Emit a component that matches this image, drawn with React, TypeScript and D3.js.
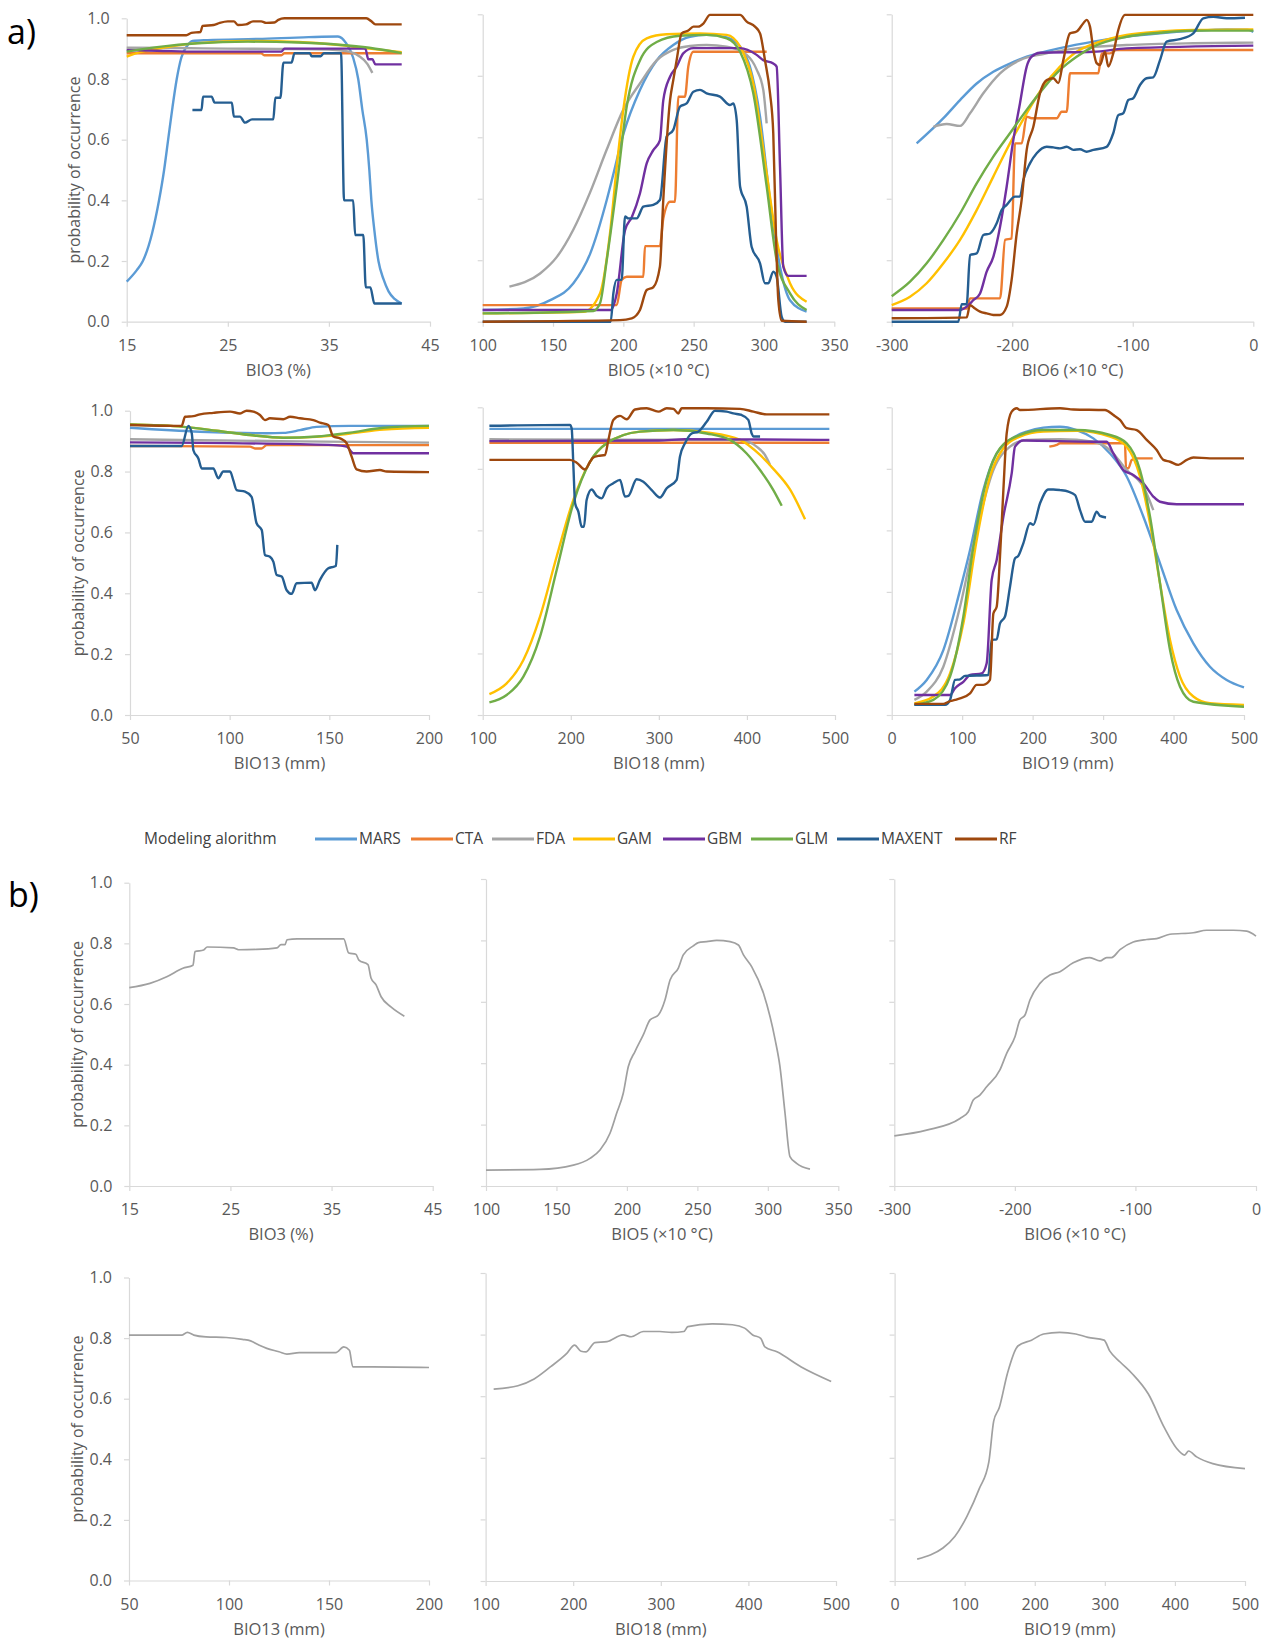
import * as d3 from 'd3'
import { useEffect, useRef } from 'react'

type Pt = [number, number]

const MODELS = ['MARS', 'CTA', 'FDA', 'GAM', 'GBM', 'GLM', 'MAXENT', 'RF']
const MODEL_COLORS = ['#5b9bd5', '#ed7d31', '#a5a5a5', '#ffc000', '#7030a0', '#70ad47', '#255e91', '#9e480e']
const Y_TICKS = [0, 0.2, 0.4, 0.6, 0.8, 1.0]

const BIO3_TICKS = [15, 25, 35, 45]
const BIO5_TICKS = [100, 150, 200, 250, 300, 350]
const BIO6_TICKS = [-300, -200, -100, 0]
const BIO13_TICKS = [50, 100, 150, 200]
const BIO18_TICKS = [100, 200, 300, 400, 500]
const BIO19_TICKS = [0, 100, 200, 300, 400, 500]

// a) response curves per modelling algorithm
const bio3Curves: Record<string, Pt[]> = {
  MARS: [[15, 0.132], [16, 0.17], [16.6, 0.2], [17.5, 0.29], [18.2, 0.4], [18.7, 0.5], [19.1, 0.6], [19.5, 0.7], [19.95, 0.8], [20.4, 0.87], [21, 0.91], [21.5, 0.925], [23, 0.928], [28, 0.932], [33, 0.938], [35.9, 0.94], [36.7, 0.918], [37.4, 0.87], [37.9, 0.8], [38.3, 0.7], [38.74, 0.6], [39.0, 0.5], [39.2, 0.4], [39.5, 0.3], [39.9, 0.2], [40.4, 0.14], [40.9, 0.1], [41.5, 0.075], [42.2, 0.06]],
  CTA: [[15, 0.885], [28.3, 0.885], [28.6, 0.878], [30.3, 0.878], [30.6, 0.885], [42.2, 0.885]],
  FDA: [[15, 0.903], [20, 0.902], [25, 0.9], [30, 0.899], [35, 0.897], [37, 0.89], [38, 0.875], [38.8, 0.85], [39.3, 0.82]],
  GAM: [[15, 0.874], [16.5, 0.89], [19, 0.905], [22, 0.918], [27, 0.925], [32, 0.922], [36, 0.912], [39, 0.9], [42.2, 0.888]],
  GBM: [[15, 0.895], [18, 0.893], [22, 0.89], [30.3, 0.89], [30.6, 0.9], [38.6, 0.9], [38.9, 0.865], [39.3, 0.865], [39.6, 0.848], [42.2, 0.848]],
  GLM: [[15, 0.89], [18, 0.905], [22, 0.918], [27, 0.923], [32, 0.92], [36, 0.913], [39, 0.903], [42.2, 0.885]],
  MAXENT: [[21.5, 0.698], [22.4, 0.698], [22.55, 0.742], [23.4, 0.742], [23.7, 0.722], [25.4, 0.722], [25.6, 0.676], [26.2, 0.676], [26.7, 0.656], [27.4, 0.667], [29.5, 0.667], [29.7, 0.738], [30.2, 0.738], [30.5, 0.854], [31.3, 0.854], [31.6, 0.885], [33.1, 0.885], [33.3, 0.875], [34.2, 0.875], [34.5, 0.885], [36.2, 0.885], [36.5, 0.4], [37.4, 0.4], [37.6, 0.286], [38.4, 0.286], [38.65, 0.113], [39.1, 0.113], [39.5, 0.06], [42.2, 0.06]],
  RF: [[15, 0.944], [20.9, 0.944], [21.4, 0.952], [22.3, 0.955], [22.5, 0.975], [23.6, 0.978], [24.2, 0.985], [25.0, 0.99], [25.6, 0.99], [26.0, 0.978], [26.8, 0.98], [27.5, 0.99], [28.3, 0.99], [28.8, 0.985], [29.6, 0.986], [30.0, 0.995], [30.6, 1.0], [38.7, 1.0], [39.2, 0.99], [39.6, 0.98], [42.2, 0.98]],
}

const bio5Curves: Record<string, Pt[]> = {
  MARS: [[100, 0.038], [129, 0.043], [148, 0.07], [164.5, 0.125], [176.3, 0.22], [188.2, 0.396], [192.9, 0.48], [200, 0.61], [211.8, 0.754], [223.7, 0.85], [235.5, 0.9], [247.4, 0.927], [259.2, 0.933], [273.5, 0.925], [283, 0.895], [290, 0.83], [297.2, 0.667], [304.3, 0.396], [311.4, 0.179], [318.5, 0.07], [330.3, 0.033]],
  CTA: [[100, 0.054], [195.3, 0.054], [198.8, 0.136], [202.4, 0.146], [214.2, 0.146], [215.4, 0.246], [226, 0.246], [228.4, 0.336], [233.2, 0.39], [236.7, 0.39], [239.1, 0.732], [243.8, 0.732], [246.2, 0.83], [249.8, 0.878], [301.9, 0.878]],
  FDA: [[119, 0.114], [140.8, 0.157], [152.6, 0.21], [164.5, 0.3], [176.3, 0.42], [188.2, 0.56], [200, 0.69], [211.8, 0.775], [223.7, 0.85], [235.5, 0.884], [247.4, 0.897], [259.2, 0.9], [273.5, 0.895], [287.7, 0.868], [294.8, 0.82], [299.5, 0.754], [301.9, 0.645]],
  GAM: [[100, 0.027], [171.6, 0.032], [183.4, 0.092], [190.5, 0.287], [195.3, 0.504], [200, 0.69], [207.1, 0.862], [216.6, 0.922], [230.8, 0.935], [254.5, 0.938], [273.5, 0.933], [283, 0.895], [292.4, 0.775], [301.9, 0.483], [309, 0.266], [318.5, 0.125], [330.3, 0.065]],
  GBM: [[100, 0.038], [191, 0.038], [195.3, 0.092], [201.2, 0.298], [206, 0.34], [211.8, 0.417], [216.6, 0.515], [221.3, 0.558], [226, 0.59], [228.4, 0.72], [233.2, 0.797], [237.9, 0.83], [242.6, 0.873], [249.8, 0.89], [283, 0.89], [294.8, 0.868], [299.5, 0.851], [306.6, 0.84], [309, 0.83], [311.4, 0.504], [313.7, 0.18], [317.3, 0.149], [330.3, 0.149]],
  GLM: [[100, 0.027], [178.7, 0.035], [183.4, 0.06], [188.2, 0.2], [195.3, 0.44], [202.4, 0.7], [211.8, 0.85], [223.7, 0.91], [240.3, 0.93], [259.2, 0.933], [273.5, 0.922], [283, 0.878], [292.4, 0.743], [301.9, 0.44], [309, 0.2], [318.5, 0.092], [330.3, 0.038]],
  MAXENT: [[100, 0], [191, 0], [192.9, 0.092], [195.3, 0.136], [198.8, 0.136], [201.2, 0.342], [203.6, 0.336], [209.5, 0.336], [214.2, 0.374], [221.3, 0.38], [226, 0.396], [230.8, 0.602], [235.5, 0.624], [240.3, 0.7], [245, 0.71], [249.8, 0.748], [254.5, 0.754], [259.2, 0.743], [268.7, 0.732], [275.8, 0.705], [278.2, 0.71], [280.6, 0.656], [283, 0.44], [287.7, 0.374], [291.2, 0.244], [297.2, 0.19], [300.7, 0.125], [303.1, 0.125], [306.6, 0.163], [309, 0.146], [312.6, 0.016], [315, 0], [330.3, 0]],
  RF: [[100, 0], [197.6, 0.005], [206, 0.011], [211.8, 0.038], [216.6, 0.103], [221.3, 0.112], [226, 0.179], [228.4, 0.396], [233.2, 0.72], [235.5, 0.786], [237.9, 0.851], [241.5, 0.938], [246.2, 0.947], [249.8, 0.96], [253.3, 0.96], [256.9, 0.97], [261.6, 0.998], [283, 0.998], [287.7, 0.976], [293.6, 0.96], [297.2, 0.938], [300.7, 0.851], [304.3, 0.743], [306.6, 0.613], [308.5, 0.287], [310.2, 0.07], [312.6, 0.003], [330.3, 0]],
}

const bio6Curves: Record<string, Pt[]> = {
  MARS: [[-279.3, 0.58], [-257.1, 0.662], [-243.3, 0.721], [-229.5, 0.775], [-215.7, 0.813], [-201.9, 0.84], [-188, 0.862], [-160.4, 0.89], [-132.7, 0.911], [-105.1, 0.927], [-77.4, 0.938], [-49.8, 0.946], [-22.1, 0.951], [-5, 0.95], [0, 0.943]],
  CTA: [[-300, 0.043], [-237.8, 0.043], [-235, 0.076], [-210.1, 0.076], [-205.9, 0.266], [-200.5, 0.271], [-197.7, 0.58], [-192.2, 0.58], [-188, 0.667], [-183.9, 0.662], [-163.1, 0.662], [-159, 0.683], [-154.8, 0.683], [-152.1, 0.808], [-128.6, 0.808], [-125.8, 0.873], [-118.9, 0.873], [-113.4, 0.884], [0, 0.884]],
  FDA: [[-265.4, 0.634], [-254.4, 0.643], [-243.3, 0.637], [-235, 0.678], [-224, 0.743], [-210.1, 0.808], [-193.6, 0.851], [-174.2, 0.871], [-146.6, 0.889], [-105.1, 0.9], [-49.8, 0.906], [0, 0.908]],
  GAM: [[-300, 0.054], [-284.8, 0.081], [-271, 0.125], [-257.1, 0.19], [-243.3, 0.266], [-229.5, 0.363], [-215.7, 0.472], [-201.9, 0.58], [-188, 0.678], [-174.2, 0.765], [-160.4, 0.83], [-146.6, 0.878], [-127.2, 0.911], [-105.1, 0.933], [-77.4, 0.944], [-49.8, 0.949], [0, 0.951]],
  GBM: [[-300, 0.038], [-243.3, 0.038], [-237.8, 0.049], [-232.3, 0.07], [-226.7, 0.092], [-221.2, 0.163], [-215.7, 0.211], [-210.1, 0.309], [-204.6, 0.44], [-199.1, 0.591], [-193.6, 0.71], [-188, 0.83], [-183.9, 0.862], [-177, 0.875], [-132.7, 0.878], [-105.1, 0.889], [0, 0.898]],
  GLM: [[-300, 0.083], [-284.8, 0.13], [-271, 0.19], [-257.1, 0.266], [-243.3, 0.352], [-229.5, 0.45], [-215.7, 0.537], [-201.9, 0.613], [-188, 0.689], [-174.2, 0.759], [-160.4, 0.819], [-146.6, 0.862], [-132.7, 0.895], [-105.1, 0.927], [-77.4, 0.94], [-49.8, 0.947], [0, 0.947]],
  MAXENT: [[-300, 0], [-244.7, 0], [-241.9, 0.057], [-237.8, 0.057], [-235, 0.217], [-229.5, 0.222], [-224, 0.282], [-218.4, 0.287], [-212.9, 0.32], [-208.8, 0.363], [-204.6, 0.38], [-197.7, 0.407], [-193.6, 0.407], [-190.8, 0.461], [-185.3, 0.515], [-179.7, 0.548], [-171.4, 0.569], [-165.9, 0.567], [-160.4, 0.564], [-154.8, 0.569], [-149.3, 0.559], [-143.8, 0.561], [-138.3, 0.553], [-132.7, 0.559], [-121.7, 0.569], [-116.2, 0.613], [-112, 0.672], [-107.9, 0.678], [-103.7, 0.721], [-99.6, 0.727], [-94, 0.77], [-88.5, 0.792], [-83, 0.795], [-77.4, 0.851], [-71.9, 0.911], [-60.9, 0.919], [-49.8, 0.938], [-41.5, 0.987], [-33.2, 0.992], [-22.1, 0.987], [-6.9, 0.989]],
  RF: [[-300, 0.011], [-237.8, 0.014], [-235, 0.054], [-230.9, 0.043], [-226.7, 0.033], [-221.2, 0.027], [-215.7, 0.022], [-210.1, 0.022], [-204.6, 0.049], [-200.5, 0.136], [-196.3, 0.287], [-192.2, 0.396], [-188, 0.559], [-182.5, 0.634], [-177, 0.743], [-171.4, 0.786], [-165.9, 0.792], [-161.8, 0.776], [-157.6, 0.851], [-152.1, 0.938], [-146.6, 0.944], [-141, 0.971], [-138.3, 0.982], [-135.5, 0.96], [-132.7, 0.884], [-130, 0.841], [-127.2, 0.835], [-123.1, 0.878], [-120.3, 0.83], [-116.2, 0.873], [-112, 0.949], [-106.5, 0.998], [0, 0.998]],
}

const bio13Curves: Record<string, Pt[]> = {
  MARS: [[50, 0.944], [85.1, 0.931], [118.6, 0.926], [126.9, 0.927], [135.3, 0.936], [143.6, 0.947], [160.4, 0.95], [200, 0.95]],
  CTA: [[50, 0.884], [110.2, 0.882], [112.7, 0.876], [116, 0.876], [118.6, 0.887], [200, 0.887]],
  FDA: [[50, 0.906], [125, 0.9], [200, 0.895]],
  GAM: [[50, 0.955], [76.8, 0.947], [93.5, 0.934], [110.2, 0.92], [126.9, 0.911], [143.6, 0.914], [160.4, 0.925], [177.1, 0.938], [200, 0.944]],
  GBM: [[50, 0.896], [135.3, 0.89], [152, 0.887], [158.7, 0.882], [162, 0.86], [200, 0.86]],
  GLM: [[50, 0.955], [76.8, 0.947], [93.5, 0.934], [110.2, 0.92], [126.9, 0.911], [143.6, 0.915], [160.4, 0.928], [177.1, 0.944], [200, 0.95]],
  MAXENT: [[50, 0.884], [75.9, 0.884], [79.3, 0.95], [81, 0.925], [81.8, 0.87], [84.3, 0.843], [86, 0.81], [91.8, 0.81], [94.3, 0.778], [96.8, 0.8], [100.2, 0.8], [101.8, 0.772], [103.5, 0.739], [107.7, 0.734], [111, 0.717], [113.5, 0.63], [116.1, 0.608], [117.7, 0.526], [120.2, 0.52], [121.9, 0.504], [123.6, 0.46], [126.1, 0.455], [128.6, 0.41], [131.1, 0.398], [133.6, 0.433], [141.1, 0.435], [142.8, 0.41], [145.3, 0.444], [149.5, 0.482], [152, 0.487], [153.3, 0.49], [154, 0.559]],
  RF: [[50, 0.953], [75.9, 0.95], [77.6, 0.98], [81.8, 0.982], [85.1, 0.988], [91.8, 0.993], [100.2, 0.997], [105.2, 0.991], [108.5, 1.0], [111.9, 0.997], [115.2, 0.986], [117.7, 0.969], [120.2, 0.975], [126.9, 0.972], [130.3, 0.98], [135.3, 0.975], [142, 0.969], [145.3, 0.961], [149.5, 0.953], [152, 0.915], [155.4, 0.909], [158.7, 0.893], [161.2, 0.849], [163.7, 0.807], [168.7, 0.8], [175.4, 0.805], [178.8, 0.8], [200, 0.798]],
}

const bio18Curves: Record<string, Pt[]> = {
  MARS: [[107.6, 0.93], [493.6, 0.93]],
  CTA: [[107.6, 0.885], [493.6, 0.885]],
  FDA: [[107.6, 0.896], [392, 0.894], [411, 0.872], [420.5, 0.845], [426.2, 0.813]],
  GAM: [[107.6, 0.068], [127.2, 0.103], [146.2, 0.179], [165.1, 0.32], [184, 0.515], [202.9, 0.699], [221.9, 0.823], [240.8, 0.883], [278.6, 0.921], [316.5, 0.926], [354.3, 0.918], [392.2, 0.894], [414.9, 0.845], [430, 0.8], [448.9, 0.733], [466, 0.636]],
  GBM: [[107.6, 0.89], [300, 0.892], [330, 0.896], [493.6, 0.894]],
  GLM: [[107.6, 0.041], [127.2, 0.065], [146.2, 0.125], [165.1, 0.255], [184, 0.471], [202.9, 0.688], [221.9, 0.823], [240.8, 0.883], [278.6, 0.921], [316.5, 0.926], [354.3, 0.915], [380.8, 0.894], [399.7, 0.85], [414.9, 0.796], [430, 0.731], [439.5, 0.68]],
  MAXENT: [[107.6, 0.94], [199.1, 0.943], [201, 0.932], [203, 0.807], [204.9, 0.688], [208.6, 0.661], [212.4, 0.612], [215, 0.612], [218, 0.699], [223.7, 0.733], [229.4, 0.712], [235.1, 0.704], [240.8, 0.737], [248.3, 0.753], [255.9, 0.764], [261.6, 0.71], [265.4, 0.712], [274.8, 0.766], [282.4, 0.758], [291.9, 0.731], [301.3, 0.707], [308.9, 0.737], [320.2, 0.764], [324, 0.84], [329.7, 0.883], [337.3, 0.915], [344.8, 0.921], [354.3, 0.953], [363.8, 0.989], [377, 0.986], [384.6, 0.98], [394, 0.975], [401.6, 0.959], [405.4, 0.915], [407.3, 0.905], [414.9, 0.905]],
  RF: [[107.6, 0.829], [199.1, 0.829], [206.7, 0.82], [216.2, 0.798], [221.9, 0.823], [225.6, 0.837], [231.3, 0.842], [238.9, 0.845], [242.7, 0.894], [248.3, 0.959], [255.9, 0.972], [263.5, 0.961], [272.9, 0.993], [286.2, 0.997], [299.4, 0.986], [308.9, 0.997], [316.5, 0.995], [322.1, 0.98], [325.9, 0.997], [354.3, 0.997], [392.2, 0.995], [407.3, 0.986], [422.4, 0.977], [493.6, 0.977]],
}

const bio19Curves: Record<string, Pt[]> = {
  MARS: [[32.2, 0.076], [49.7, 0.114], [73.3, 0.211], [97, 0.406], [111.2, 0.536], [130, 0.731], [144.3, 0.829], [167.9, 0.894], [191.6, 0.921], [215.2, 0.934], [238.9, 0.937], [262.5, 0.926], [286.2, 0.899], [309.8, 0.85], [333.5, 0.775], [357.1, 0.645], [380.8, 0.493], [404.4, 0.341], [428.1, 0.233], [451.7, 0.157], [475.4, 0.114], [500, 0.09]],
  CTA: [[223.7, 0.872], [234.2, 0.878], [238.9, 0.883], [331.1, 0.883], [332.5, 0.802], [336, 0.802], [340.6, 0.829], [347.7, 0.834], [370.4, 0.834]],
  FDA: [[32.2, 0.049], [49.7, 0.076], [73.3, 0.157], [97, 0.352], [120.6, 0.601], [144.3, 0.796], [167.9, 0.872], [191.6, 0.894], [238.9, 0.896], [286.2, 0.888], [309.8, 0.861], [333.5, 0.796], [357.1, 0.742], [371.3, 0.666]],
  GAM: [[32.2, 0.038], [59.1, 0.06], [82.8, 0.135], [101.7, 0.298], [120.6, 0.569], [139.5, 0.775], [158.5, 0.867], [182.1, 0.905], [215.2, 0.921], [262.5, 0.924], [309.8, 0.905], [333.5, 0.872], [352.4, 0.775], [366.6, 0.623], [380.8, 0.428], [395, 0.244], [409.2, 0.125], [428.1, 0.06], [451.7, 0.038], [500, 0.033]],
  GBM: [[32.2, 0.065], [82.8, 0.065], [89.9, 0.087], [101.7, 0.108], [111.2, 0.13], [127.7, 0.135], [134.8, 0.168], [141.9, 0.439], [149, 0.504], [158.5, 0.645], [170.3, 0.785], [175, 0.872], [186.8, 0.892], [286.2, 0.888], [305.1, 0.888], [314.6, 0.85], [328.8, 0.796], [342.9, 0.78], [357.1, 0.753], [371.3, 0.71], [380.8, 0.693], [404.4, 0.685], [500, 0.685]],
  GLM: [[32.2, 0.033], [59.1, 0.049], [82.8, 0.125], [101.7, 0.32], [115.9, 0.547], [134.8, 0.764], [153.7, 0.867], [182.1, 0.91], [215.2, 0.926], [262.5, 0.926], [309.8, 0.91], [333.5, 0.883], [352.4, 0.796], [366.6, 0.645], [380.8, 0.428], [395, 0.211], [409.2, 0.092], [428.1, 0.043], [500, 0.027]],
  MAXENT: [[32.2, 0.033], [75.7, 0.033], [82.8, 0.049], [89.9, 0.114], [97, 0.116], [104.1, 0.127], [137.2, 0.13], [141.9, 0.244], [149, 0.246], [153.7, 0.298], [160.8, 0.32], [167.9, 0.417], [175, 0.509], [179.7, 0.517], [186.8, 0.558], [196.3, 0.623], [201, 0.618], [210.5, 0.688], [222.3, 0.733], [229.4, 0.733], [238.9, 0.731], [250.7, 0.726], [260.2, 0.715], [267.3, 0.666], [274.4, 0.628], [283.8, 0.628], [290.9, 0.661], [295.6, 0.647], [304.2, 0.642]],
  RF: [[32.2, 0.036], [73.3, 0.036], [80.4, 0.043], [89.9, 0.049], [97, 0.054], [111.2, 0.07], [120.6, 0.098], [130, 0.098], [139.5, 0.114], [144.3, 0.33], [149, 0.352], [153.7, 0.515], [158.5, 0.731], [163.2, 0.915], [170.3, 0.986], [177.4, 0.997], [182.1, 0.991], [238.9, 0.997], [257.8, 0.993], [302.7, 0.991], [314.6, 0.975], [324, 0.959], [333.5, 0.932], [347.7, 0.926], [361.9, 0.894], [376.1, 0.861], [385.5, 0.829], [395, 0.823], [406.8, 0.813], [418.6, 0.829], [428.1, 0.837], [451.7, 0.834], [500, 0.834]],
}

// b) ensemble response curves
const bio3Ensemble: Pt[] = [[15, 0.654], [17.04, 0.668], [18.7, 0.69], [20.3, 0.718], [21.3, 0.728], [21.5, 0.773], [22.35, 0.778], [22.7, 0.788], [25.3, 0.785], [25.8, 0.779], [27.6, 0.78], [29.6, 0.785], [30.0, 0.796], [30.4, 0.796], [30.6, 0.812], [31.6, 0.815], [36.2, 0.815], [36.7, 0.768], [37.4, 0.764], [37.7, 0.745], [38.6, 0.73], [38.9, 0.686], [39.4, 0.663], [39.9, 0.624], [40.9, 0.59], [42.2, 0.56]]
const bio5Ensemble: Pt[] = [[100, 0.052], [138.3, 0.054], [162, 0.068], [173.8, 0.09], [180.9, 0.117], [188, 0.172], [192.7, 0.237], [197.4, 0.302], [201, 0.389], [205.7, 0.438], [211.6, 0.492], [216.4, 0.541], [222.3, 0.557], [227, 0.606], [230.6, 0.671], [236.5, 0.71], [240, 0.753], [247.1, 0.782], [250.7, 0.793], [256.6, 0.796], [263.7, 0.8], [273.2, 0.796], [279.1, 0.785], [282.7, 0.753], [288.6, 0.714], [296.9, 0.628], [305.2, 0.476], [308.6, 0.389], [312.2, 0.237], [315.7, 0.096], [320.4, 0.074], [329.9, 0.055]]
const bio6Ensemble: Pt[] = [[-300, 0.163], [-273.2, 0.182], [-245.5, 0.22], [-238.6, 0.242], [-234.5, 0.28], [-229, 0.296], [-223.4, 0.323], [-212.4, 0.378], [-206.8, 0.432], [-199.9, 0.486], [-195.8, 0.541], [-191.6, 0.557], [-187.5, 0.606], [-179.2, 0.66], [-170.9, 0.687], [-162.6, 0.698], [-151.6, 0.727], [-137.8, 0.744], [-129.4, 0.733], [-123.9, 0.744], [-119.8, 0.744], [-112.8, 0.77], [-101.8, 0.795], [-90.7, 0.803], [-82.4, 0.806], [-71.4, 0.82], [-52, 0.825], [-41, 0.833], [-18.8, 0.833], [-7.7, 0.83], [0, 0.814]]
const bio13Ensemble: Pt[] = [[50, 0.81], [76.3, 0.81], [79.2, 0.819], [82.4, 0.81], [88.5, 0.804], [98.6, 0.802], [106.7, 0.796], [110.8, 0.791], [114.9, 0.777], [118.9, 0.766], [125, 0.755], [129, 0.747], [135.1, 0.752], [153.4, 0.752], [157.4, 0.771], [160.2, 0.76], [161.9, 0.705], [171.6, 0.705], [200, 0.703]]
const bio18Ensemble: Pt[] = [[109.2, 0.623], [136.9, 0.634], [155.4, 0.656], [173.9, 0.695], [192.4, 0.738], [201.6, 0.766], [209, 0.746], [214.5, 0.744], [224.7, 0.774], [238.6, 0.777], [257, 0.799], [266.3, 0.793], [280.1, 0.81], [298.6, 0.81], [312.5, 0.807], [326.3, 0.81], [330.9, 0.826], [358.7, 0.835], [381.8, 0.832], [395.7, 0.821], [404.9, 0.799], [414.1, 0.788], [418.8, 0.76], [432.6, 0.744], [460.3, 0.695], [494.5, 0.648]]
const bio19Ensemble: Pt[] = [[32.2, 0.071], [51.7, 0.085], [69, 0.107], [86.2, 0.145], [103.4, 0.211], [120.7, 0.299], [134.5, 0.387], [141.4, 0.519], [149.4, 0.563], [160.9, 0.673], [175.9, 0.763], [195.4, 0.782], [212.6, 0.802], [235.6, 0.807], [258.6, 0.802], [275.9, 0.791], [298.9, 0.782], [306.9, 0.747], [321.8, 0.711], [339.1, 0.673], [362.1, 0.607], [385.1, 0.497], [402.3, 0.431], [413.8, 0.409], [419.5, 0.422], [431, 0.403], [454, 0.381], [500, 0.365]]

const FONT = "'Open Sans', 'Noto Sans', sans-serif"
const TEXT_COLOR = '#595959'
const AXIS_COLOR = '#d9d9d9'

interface Panel {
  curves: Record<string, Pt[]> | null
  ensemble: Pt[] | null
  ticks: number[]
  title: string
  left: number
  right: number
  top: number
  bottom: number
  yLabels: boolean
}

const panels: Panel[] = [
  { curves: bio3Curves, ensemble: null, ticks: BIO3_TICKS, title: 'BIO3 (%)', left: 126.7, right: 430, top: 18.3, bottom: 321.7, yLabels: true },
  { curves: bio5Curves, ensemble: null, ticks: BIO5_TICKS, title: 'BIO5 (×10 °C)', left: 482.7, right: 834.3, top: 14.3, bottom: 321.7, yLabels: false },
  { curves: bio6Curves, ensemble: null, ticks: BIO6_TICKS, title: 'BIO6 (×10 °C)', left: 891.7, right: 1253.3, top: 14.3, bottom: 321.7, yLabels: false },
  { curves: bio13Curves, ensemble: null, ticks: BIO13_TICKS, title: 'BIO13 (mm)', left: 130, right: 429, top: 410.7, bottom: 715, yLabels: true },
  { curves: bio18Curves, ensemble: null, ticks: BIO18_TICKS, title: 'BIO18 (mm)', left: 482.7, right: 835, top: 407.3, bottom: 715, yLabels: false },
  { curves: bio19Curves, ensemble: null, ticks: BIO19_TICKS, title: 'BIO19 (mm)', left: 891.7, right: 1244, top: 407.3, bottom: 715, yLabels: false },
  { curves: null, ensemble: bio3Ensemble, ticks: BIO3_TICKS, title: 'BIO3 (%)', left: 129.3, right: 432.7, top: 882.7, bottom: 1186, yLabels: true },
  { curves: null, ensemble: bio5Ensemble, ticks: BIO5_TICKS, title: 'BIO5 (×10 °C)', left: 486, right: 838.3, top: 879, bottom: 1186, yLabels: false },
  { curves: null, ensemble: bio6Ensemble, ticks: BIO6_TICKS, title: 'BIO6 (×10 °C)', left: 894.3, right: 1256, top: 879, bottom: 1186, yLabels: false },
  { curves: null, ensemble: bio13Ensemble, ticks: BIO13_TICKS, title: 'BIO13 (mm)', left: 129, right: 429, top: 1277.5, bottom: 1580.5, yLabels: true },
  { curves: null, ensemble: bio18Ensemble, ticks: BIO18_TICKS, title: 'BIO18 (mm)', left: 485.6, right: 836, top: 1273, bottom: 1581, yLabels: false },
  { curves: null, ensemble: bio19Ensemble, ticks: BIO19_TICKS, title: 'BIO19 (mm)', left: 894.6, right: 1245, top: 1273, bottom: 1581, yLabels: false },
]

// legend item left edges (line start)
const LEGEND_X = [315, 411, 492, 573, 663, 751, 837, 955]

export default function App() {
  const svgRef = useRef<SVGSVGElement>(null)

  useEffect(() => {
    const svg = d3.select(svgRef.current)
    svg.selectAll('*').remove()

    panels.forEach((p) => {
      const x = d3.scaleLinear().domain([p.ticks[0], p.ticks[p.ticks.length - 1]]).range([p.left, p.right])
      const y = d3.scaleLinear().domain([0, 1]).range([p.bottom, p.top])
      const g = svg.append('g')

      const xAxis = g.append('g')
        .attr('transform', `translate(0,${p.bottom})`)
        .call(d3.axisBottom(x).tickValues(p.ticks).tickSize(5).tickSizeOuter(0).tickPadding(13)
          .tickFormat((d) => String(d)))
      const yAxis = g.append('g')
        .attr('transform', `translate(${p.left},0)`)
        .call(d3.axisLeft(y).tickValues(Y_TICKS).tickSize(5).tickSizeOuter(0).tickPadding(12)
          .tickFormat((d) => (p.yLabels ? d3.format('.1f')(d as number) : '')))

      ;[xAxis, yAxis].forEach((a) => {
        a.select('.domain').attr('stroke', AXIS_COLOR).attr('stroke-width', 1.2)
        a.selectAll('.tick line').attr('stroke', AXIS_COLOR).attr('stroke-width', 1.2)
        a.selectAll('.tick text').attr('fill', TEXT_COLOR).style('font-family', FONT).style('font-size', '16px')
      })

      g.append('text')
        .attr('x', (p.left + p.right) / 2)
        .attr('y', p.bottom + 54)
        .attr('text-anchor', 'middle')
        .attr('fill', TEXT_COLOR)
        .style('font-family', FONT)
        .style('font-size', '16.5px')
        .text(p.title)

      if (p.yLabels) {
        g.append('text')
          .attr('transform', `translate(${p.left - 52},${(p.top + p.bottom) / 2}) rotate(-90)`)
          .attr('text-anchor', 'middle')
          .attr('dy', '0.35em')
          .attr('fill', TEXT_COLOR)
          .style('font-family', FONT)
          .style('font-size', '16px')
          .text('probability of occurrence')
      }

      const line = d3.line<Pt>()
        .x((d) => x(d[0]))
        .y((d) => y(d[1]))
        .curve(d3.curveMonotoneX)

      if (p.curves) {
        MODELS.forEach((m, i) => {
          g.append('path')
            .datum(p.curves![m])
            .attr('d', line)
            .attr('fill', 'none')
            .attr('stroke', MODEL_COLORS[i])
            .attr('stroke-width', 2.4)
            .attr('stroke-linejoin', 'round')
        })
      }
      if (p.ensemble) {
        g.append('path')
          .datum(p.ensemble)
          .attr('d', line)
          .attr('fill', 'none')
          .attr('stroke', '#a0a0a0')
          .attr('stroke-width', 1.7)
          .attr('stroke-linejoin', 'round')
      }
    })

    // panel letters
    svg.append('text').attr('x', 7).attr('y', 44).style('font-family', FONT).style('font-size', '34px').attr('fill', '#000').text('a)')
    svg.append('text').attr('x', 8).attr('y', 907).style('font-family', FONT).style('font-size', '34px').attr('fill', '#000').text('b)')

    // legend
    const lg = svg.append('g').attr('transform', 'translate(0,839)')
    lg.append('text')
      .attr('x', 144)
      .attr('dy', '0.35em')
      .attr('fill', '#404040')
      .style('font-family', FONT)
      .style('font-size', '15.5px')
      .text('Modeling alorithm')
    MODELS.forEach((m, i) => {
      const x0 = LEGEND_X[i]
      lg.append('line')
        .attr('x1', x0).attr('x2', x0 + 42)
        .attr('y1', 0).attr('y2', 0)
        .attr('stroke', MODEL_COLORS[i])
        .attr('stroke-width', 3)
      lg.append('text')
        .attr('x', x0 + 44)
        .attr('dy', '0.35em')
        .attr('fill', '#404040')
        .style('font-family', FONT)
        .style('font-size', '15.5px')
        .text(m)
    })
  }, [])

  return (
    <svg
      ref={svgRef}
      width={1269}
      height={1644}
      style={{ position: 'absolute', left: 0, top: 0, display: 'block', background: '#fff' }}
    />
  )
}
